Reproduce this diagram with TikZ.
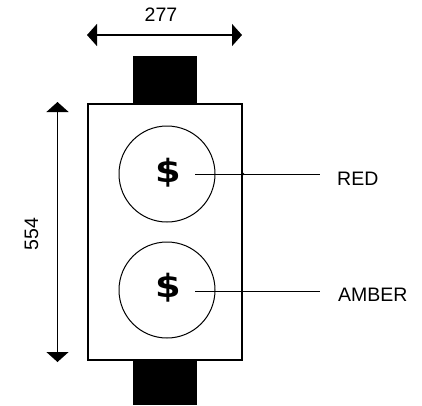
\documentclass[tikz,border=0pt]{standalone}
\usepackage{fontspec}
\setmainfont{Liberation Sans}
\newfontfamily\dollarfont{DejaVu Sans}
\usetikzlibrary{arrows.meta}
\begin{document}
\begin{tikzpicture}[x=1pt,y=-1pt,
  dimline/.style={line width=1.5pt,{Triangle[length=10pt,width=22pt]}-{Triangle[length=10pt,width=22pt]}},
  lamp/.style={circle,draw,line width=1pt,minimum size=96pt,inner sep=0pt},
  sign/.style={font=\dollarfont\bfseries\fontsize{32}{32}\selectfont,inner sep=0pt,xscale=1.15},
  lbl/.style={font=\fontsize{19.5}{20}\selectfont,inner sep=0pt,anchor=west},
  leader/.style={line width=1pt},
  block/.style={fill=black,draw=none}]
\useasboundingbox (0,0) rectangle (422,405);
% mounting blocks
\fill[black] (133,56) rectangle (197,104);
\fill[black] (133,360) rectangle (197,405);
% housing
\node[draw,line width=1.6pt,minimum width=154pt,minimum height=256pt,inner sep=0pt] (box) at (165,232) {};
% lamps
\node[lamp] (red) at (167,174) {};
\node[lamp] (amber) at (167,290) {};
\node[sign] (s1) at (168,173) {\$};
\node[sign] (s2) at (168,288) {\$};
% labels
\node[lbl] (redl) at (337,179) {RED};
\node[lbl] (amberl) at (338,295) {AMBER};
\coordinate (r1) at (195,174);
\coordinate (r2) at (320,174);
\coordinate (a1) at (195,291);
\coordinate (a2) at (320,291);
\draw[leader] (r1) -- (r2);
\fill (243,174) circle (1.3pt);
\draw[leader] (a1) -- (a2);
% dimensions
\coordinate (h1) at (87,35);
\coordinate (h2) at (242,35);
\draw[dimline] (h1) -- (h2);
\node[font=\fontsize{19.5}{20}\selectfont,inner sep=0pt] (w) at (161,15) {277};
\coordinate (v1) at (57.5,102);
\coordinate (v2) at (57.5,362);
\draw[dimline] (v1) -- (v2);
\node[font=\fontsize{19.5}{20}\selectfont,inner sep=0pt,rotate=90] (hgt) at (31.5,234) {554};
\end{tikzpicture}
\end{document}
